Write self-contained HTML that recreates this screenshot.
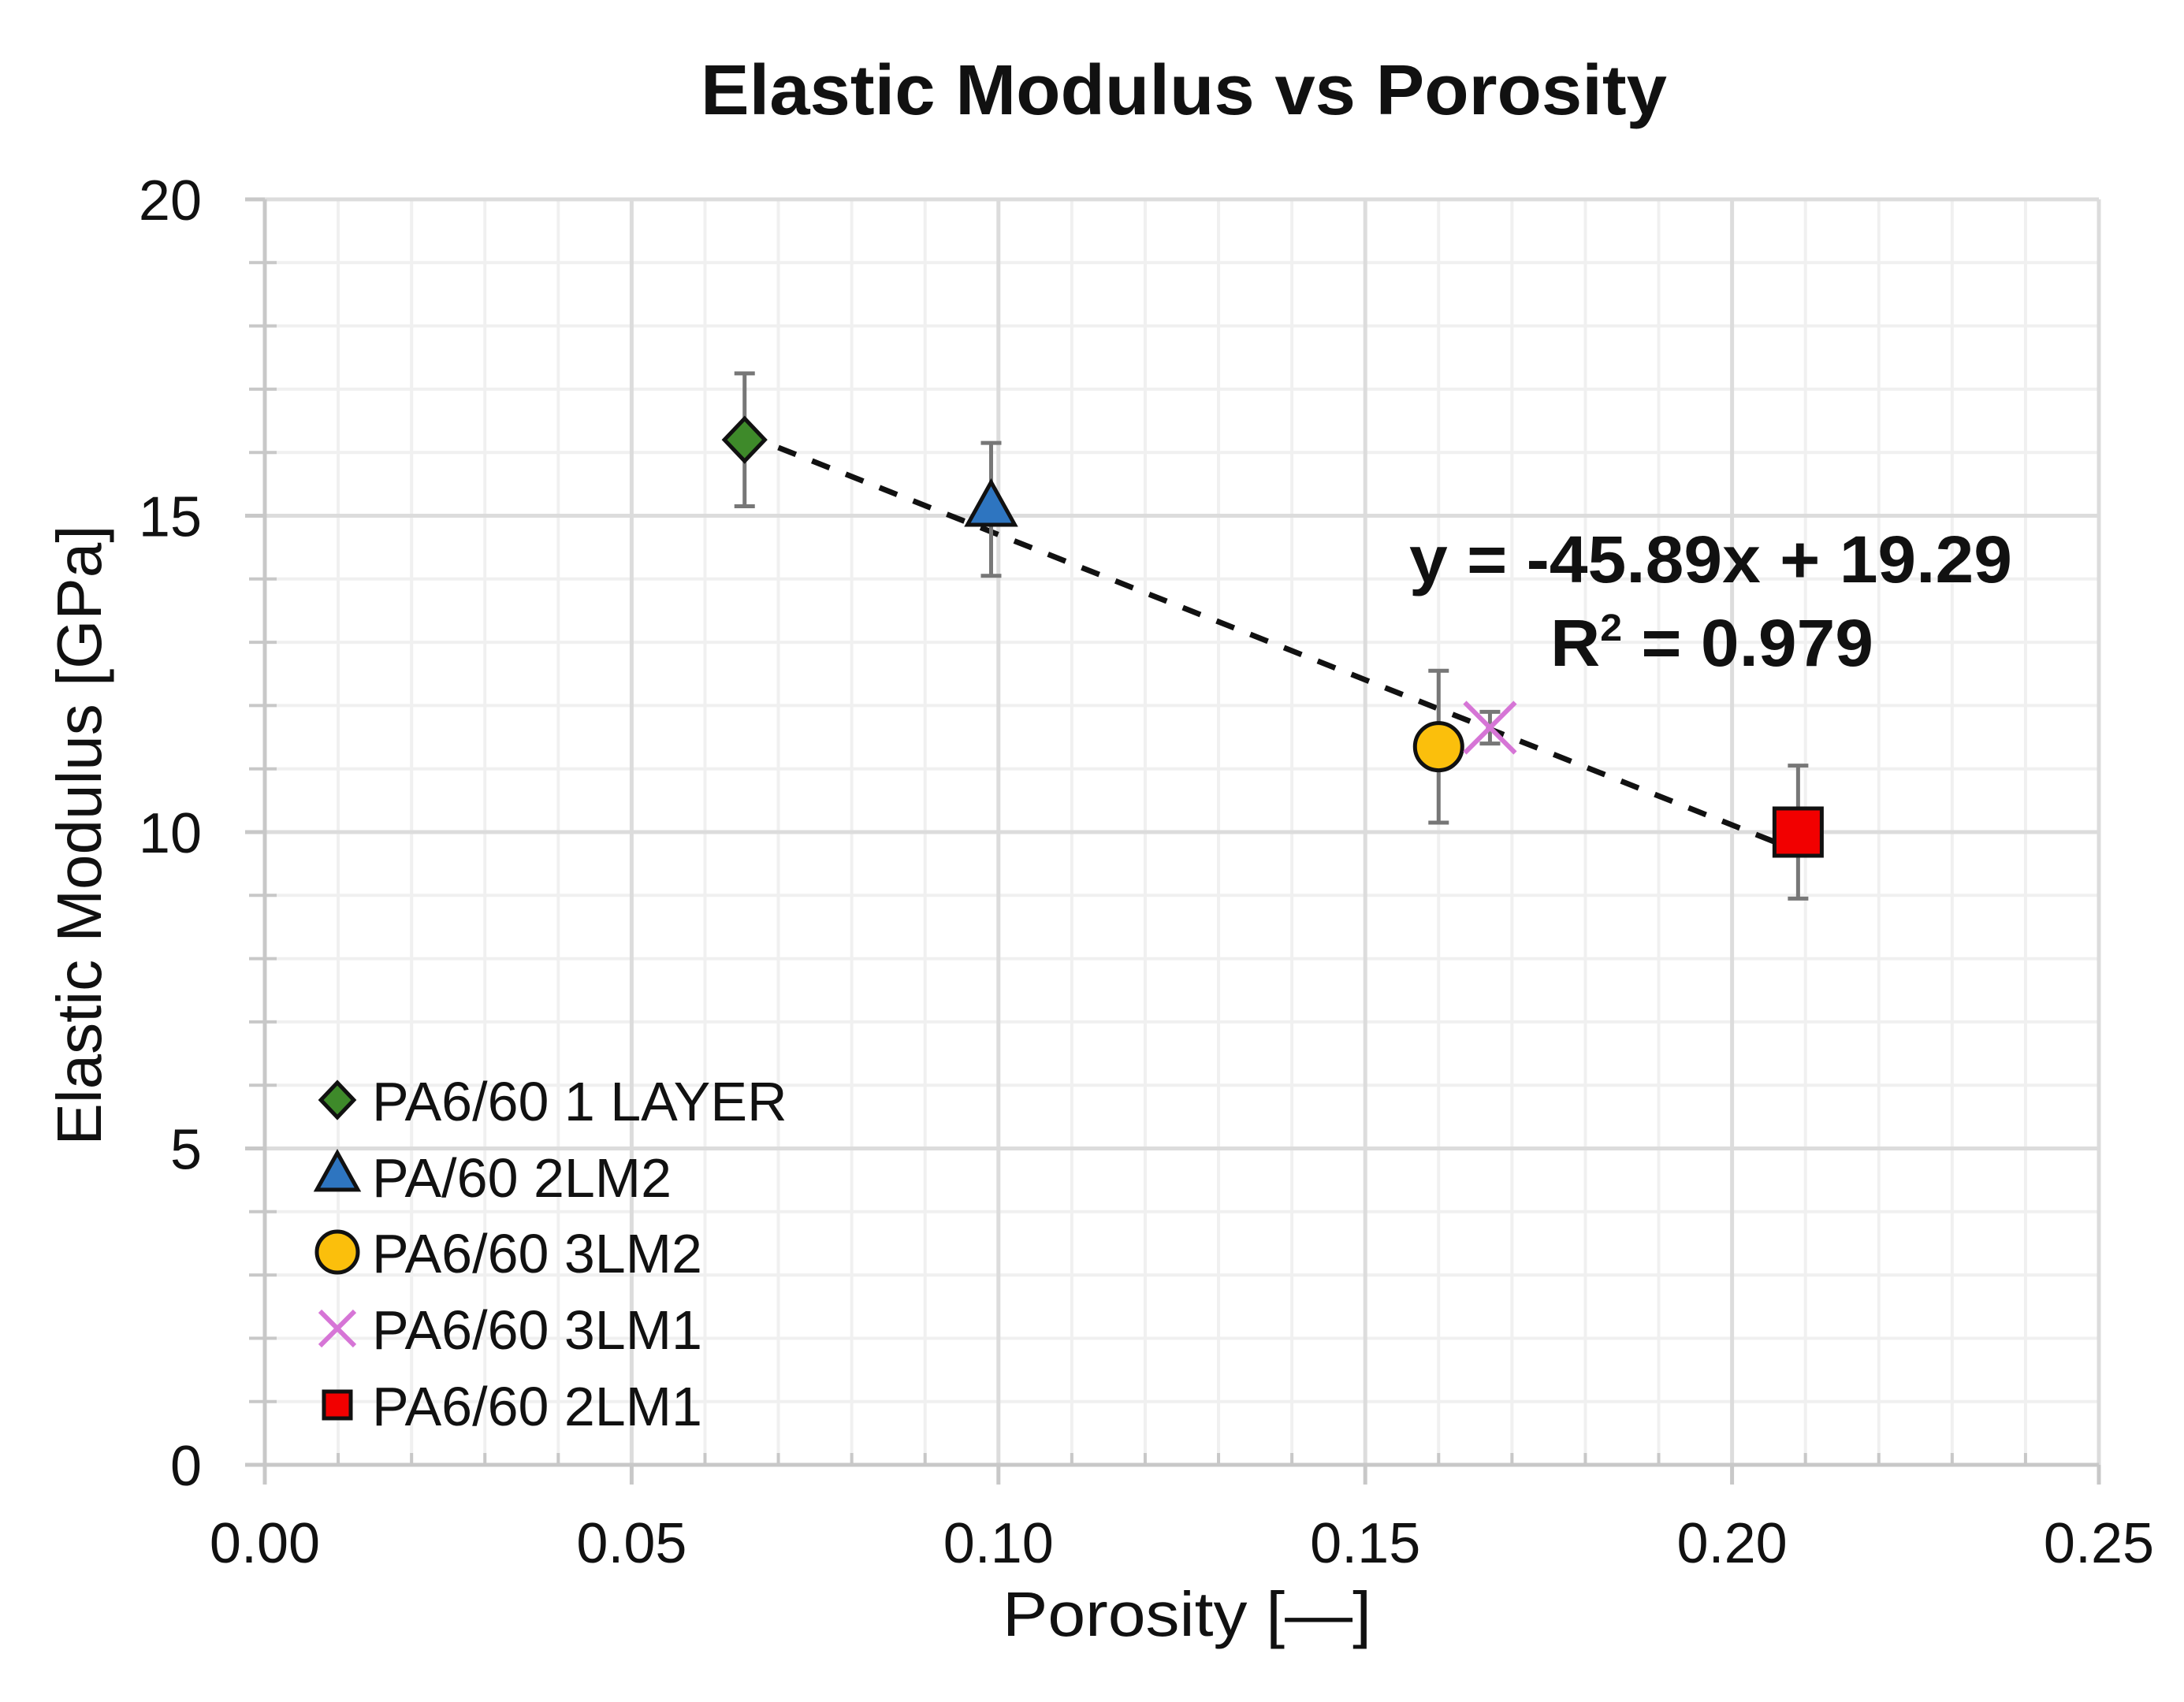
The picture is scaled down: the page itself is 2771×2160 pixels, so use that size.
<!DOCTYPE html>
<html><head><meta charset="utf-8"><style>
html,body{margin:0;padding:0;background:#fff;}
svg{display:block;font-family:"Liberation Sans",sans-serif;}
</style></head><body>
<svg id="chart" width="2771" height="2160" viewBox="0 0 2771 2160">
<text x="889" y="145" textLength="1226" lengthAdjust="spacingAndGlyphs" font-size="90" font-weight="bold" fill="#111">Elastic Modulus vs Porosity</text>
<g id="grid"></g>
<g id="axes"></g>
<g id="series"></g>
<text x="1788" y="739" textLength="765" lengthAdjust="spacingAndGlyphs" font-size="84" font-weight="bold" fill="#111">y = -45.89x + 19.29</text>
<text x="1967" y="845" textLength="410" lengthAdjust="spacingAndGlyphs" font-size="84" font-weight="bold" fill="#111">R<tspan dy="-32" font-size="48">2</tspan><tspan dy="32"> = 0.979</tspan></text>
<text x="1272" y="2076" textLength="468" lengthAdjust="spacingAndGlyphs" font-size="80" fill="#111">Porosity [—]</text>
<text transform="translate(128,1060) rotate(-90)" text-anchor="middle" font-size="80" fill="#111">Elastic Modulus [GPa]</text>
<g id="legend"></g>
</svg>
<script>
const xTicks=[0,0.05,0.10,0.15,0.20,0.25];
const xTickLabels=["0.00","0.05","0.10","0.15","0.20","0.25"];
const yTicks=[0,5,10,15,20];
const yTickLabels=["0","5","10","15","20"];
const seriesNames=["PA6/60 1 LAYER","PA/60 2LM2","PA6/60 3LM2","PA6/60 3LM1","PA6/60 2LM1"];
const xValues=[0.0654,0.099,0.160,0.167,0.209];
const yValues=[16.2,15.1,11.35,11.65,10.0];
const errValues=[1.05,1.05,1.2,0.25,1.05];
const trendSlope=-45.89, trendIntercept=19.29;

const NS="http://www.w3.org/2000/svg";
const L=336,R=2663,T=253,B=1859;
const X=v=>L+v/0.25*(R-L);
const Y=v=>B-v/20*(B-T);
function mk(tag,attrs,parent){const e=document.createElementNS(NS,tag);for(const k in attrs)e.setAttribute(k,attrs[k]);parent.appendChild(e);return e;}
const grid=document.getElementById('grid'),axes=document.getElementById('axes'),ser=document.getElementById('series'),leg=document.getElementById('legend');
for(let i=1;i<25;i++){if(i%5===0)continue;const g=mk('line',{x1:X(i*0.01),x2:X(i*0.01),y1:T,y2:B,stroke:'#f0f0f0','stroke-width':4},grid);


const t=mk('line',{x1:X(i*0.01),x2:X(i*0.01),y1:B-15,y2:B,stroke:'#c8c8c8','stroke-width':4},axes);

}
for(let i=1;i<20;i++){if(i%5===0)continue;const g=mk('line',{x1:L,x2:R,y1:Y(i),y2:Y(i),stroke:'#f0f0f0','stroke-width':4},grid);


const t=mk('line',{x1:L-20,x2:L+15,y1:Y(i),y2:Y(i),stroke:'#c8c8c8','stroke-width':4},axes);

}
xTicks.forEach((v,i)=>{
 if(v>0){const g=mk('line',{x1:X(v),x2:X(v),y1:T,y2:B,stroke:'#dcdcdc','stroke-width':5},grid);
 
 }
 const tk=mk('line',{x1:X(v),x2:X(v),y1:B,y2:B+25,stroke:'#c8c8c8','stroke-width':5},axes);
 
 
 const t=mk('text',{x:X(v),y:B+124,'text-anchor':'middle','font-size':72,fill:'#111'},axes);t.textContent=xTickLabels[i];
 
 
});
yTicks.forEach((v,i)=>{
 if(v>0){const g=mk('line',{x1:L,x2:R,y1:Y(v),y2:Y(v),stroke:'#dcdcdc','stroke-width':5},grid);
 
 }
 const tk=mk('line',{x1:L-25,x2:L,y1:Y(v),y2:Y(v),stroke:'#c8c8c8','stroke-width':5},axes);
 
 
 const t=mk('text',{x:L-80,y:Y(v)+26,'text-anchor':'end','font-size':72,fill:'#111'},axes);t.textContent=yTickLabels[i];
 
 
});
const xa=mk('line',{x1:L-25,x2:R,y1:B,y2:B,stroke:'#c8c8c8','stroke-width':5},axes);


const ya=mk('line',{x1:L,x2:L,y1:T,y2:B+25,stroke:'#c8c8c8','stroke-width':5},axes);


const x0=xValues[0],x1=xValues[4];
const tl=mk('line',{x1:X(x0),y1:Y(trendSlope*x0+trendIntercept),x2:X(x1),y2:Y(trendSlope*x1+trendIntercept),stroke:'#111','stroke-width':7,'stroke-dasharray':'24 22'},ser);


function marker(i,cx,cy,s,parent){
 let e;
 if(i===0)e=mk('polygon',{points:`${cx},${cy-s} ${cx+s*0.95},${cy} ${cx},${cy+s} ${cx-s*0.95},${cy}`,fill:'#3e8a2a',stroke:'#111','stroke-width':5},parent);
 else if(i===1)e=mk('polygon',{points:`${cx},${cy-s*1.15} ${cx+s},${cy+s*0.65} ${cx-s},${cy+s*0.65}`,fill:'#2e75c0',stroke:'#111','stroke-width':5},parent);
 else if(i===2)e=mk('circle',{cx:cx,cy:cy,r:s,fill:'#fbbf0c',stroke:'#111','stroke-width':5},parent);
 else if(i===3)e=mk('path',{d:`M${cx-s},${cy-s}L${cx+s},${cy+s}M${cx+s},${cy-s}L${cx-s},${cy+s}`,stroke:'#d675d6','stroke-width':6,fill:'none'},parent);
 else e=mk('rect',{x:cx-s,y:cy-s,width:2*s,height:2*s,fill:'#f20000',stroke:'#111','stroke-width':5},parent);
 return e;
}
xValues.forEach((xv,i)=>{
 const cx=X(xv),cy=Y(yValues[i]),top=Y(yValues[i]+errValues[i]),bot=Y(yValues[i]-errValues[i]);
 const eb=mk('path',{d:`M${cx},${top}V${bot}M${cx-13},${top}H${cx+13}M${cx-13},${bot}H${cx+13}`,stroke:'#777','stroke-width':5,fill:'none'},ser);
 
 
 const sizes=[27,30,30,32,30];
 const m=marker(i,cx,cy,sizes[i],ser);
 
 
});
const legY=[1396,1493,1589,1686,1783];
const legS=[22,26,26,22,17];
seriesNames.forEach((n,i)=>{
 const sh=marker(i,428,legY[i],legS[i],leg);
 
 
 const t=mk('text',{x:472,y:legY[i]+26,'font-size':70,fill:'#111'},leg);t.textContent=n;
 
 
});
</script>
</body></html>
